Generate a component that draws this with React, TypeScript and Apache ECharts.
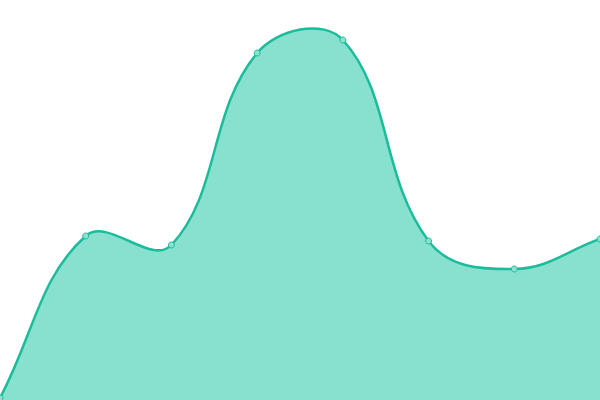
import React, { useEffect, useRef } from "react";
import * as echarts from "echarts";

const categories = ["1", "2", "3", "4", "5", "6", "7", "8"];
const values = [2, 164, 155, 347, 360, 159, 131, 161];

const TENSION = 0.4;

function buildCurve(pts: number[][]): string {
  const n = pts.length;
  const cps: { prev: number[]; next: number[] }[] = [];
  for (let i = 0; i < n; i++) {
    const cur = pts[i];
    const prev = pts[i - 1] || cur;
    const next = pts[i + 1] || cur;
    const d01 = Math.hypot(cur[0] - prev[0], cur[1] - prev[1]);
    const d12 = Math.hypot(next[0] - cur[0], next[1] - cur[1]);
    const sum = d01 + d12 || 1;
    const s01 = d01 / sum;
    const s12 = d12 / sum;
    const fa = TENSION * s01;
    const fb = TENSION * s12;
    cps.push({
      prev: [cur[0] - fa * (next[0] - prev[0]), cur[1] - fa * (next[1] - prev[1])],
      next: [cur[0] + fb * (next[0] - prev[0]), cur[1] + fb * (next[1] - prev[1])],
    });
  }
  let d = `M${pts[0][0]},${pts[0][1]}`;
  for (let i = 1; i < n; i++) {
    const a = cps[i - 1].next;
    const b = cps[i].prev;
    d += ` C${a[0]},${a[1]} ${b[0]},${b[1]} ${pts[i][0]},${pts[i][1]}`;
  }
  return d;
}

export default function App() {
  const ref = useRef<HTMLDivElement>(null);
  useEffect(() => {
    document.body.style.margin = "0";
    const chart = echarts.init(ref.current!, null, { renderer: "svg" });
    chart.setOption({
      animation: false,
      grid: { left: 0, right: 0, top: 0, bottom: 0 },
      xAxis: {
        type: "category",
        data: categories,
        boundaryGap: false,
        show: false,
      },
      yAxis: { type: "value", min: 0, max: 400, show: false },
      series: [
        {
          type: "custom",
          data: values,
          clip: false,
          z: 1,
          renderItem: (params: any, api: any) => {
            if (params.dataIndex !== 0) return null;
            const pts = values.map((v, i) => api.coord([i, v]));
            const base = api.coord([0, 0])[1];
            const line = buildCurve(pts);
            const area =
              line +
              ` L${pts[pts.length - 1][0]},${base} L${pts[0][0]},${base} Z`;
            return {
              type: "group",
              children: [
                {
                  type: "path",
                  shape: { pathData: area },
                  style: { fill: "#88e0ce", stroke: "none" },
                },
                {
                  type: "path",
                  shape: { pathData: line },
                  style: {
                    fill: "none",
                    stroke: "#1abc9c",
                    lineWidth: 2.5,
                  },
                },
              ],
            };
          },
        },
        {
          type: "scatter",
          data: values,
          z: 5,
          symbol: "circle",
          symbolSize: 6,
          itemStyle: {
            color: "#8ee0cf",
            borderColor: "#1abc9c",
            borderWidth: 1,
            opacity: 1,
          },
        },
      ],
    });
    return () => chart.dispose();
  }, []);
  return (
    <div
      ref={ref}
      style={{ position: "fixed", left: 0, top: 0, width: 600, height: 400 }}
    />
  );
}
